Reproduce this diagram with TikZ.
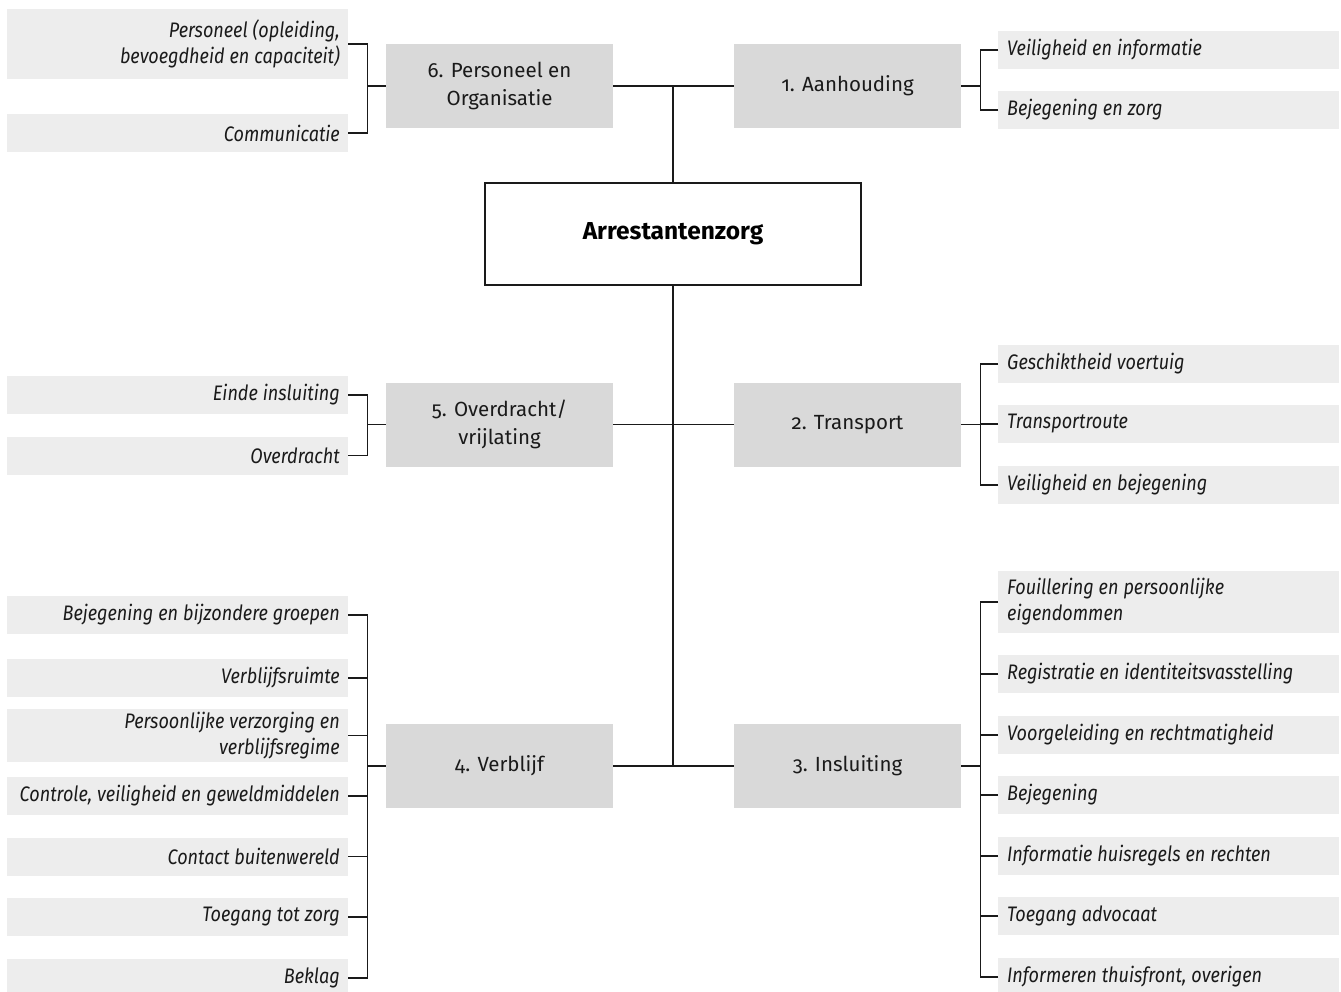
\documentclass[tikz,border=0pt]{standalone}
\usepackage{fontspec}
\setmainfont{Fira Sans}[Numbers=OldStyle]
\newfontfamily\itemfont{Fira Sans}[FakeStretch=0.86]
\definecolor{catgray}{HTML}{D9D9D9}
\definecolor{subgray}{HTML}{EDEDED}
\definecolor{linec}{HTML}{1A1A1A}
\definecolor{textc}{HTML}{1A1A1A}
\begin{document}
\begin{tikzpicture}[x=1pt,y=-1pt,
  cat/.style={fill=catgray, minimum width=227pt, minimum height=84pt, inner sep=0pt, align=center, text=textc, font=\fontsize{20.5}{27.5}\selectfont},
  mainbox/.style={draw=linec, line width=1.2pt, fill=white, minimum width=376pt, minimum height=102pt, inner sep=0pt, text=black, font=\fontsize{24.5}{28}\selectfont\bfseries},
  itemtext/.style={fill=subgray, inner ysep=0pt, minimum height=#1, text=textc, font=\itemfont\itshape\fontsize{21}{26}\selectfont, execute at begin node={\spaceskip=5pt\relax}},
  lsub/.style={itemtext=#1, anchor=east, text width=325pt, inner xsep=8pt, align=flush right},
  lsub/.default=38pt,
  rsub/.style={itemtext=#1, anchor=west, text width=323pt, inner xsep=9pt, align=flush left},
  rsub/.default=38pt,
  conn/.style={draw=linec, line width=1.3pt}
]
\clip (0,0) rectangle (1341,992);
\fill[white] (0,0) rectangle (1341,992);

% main
\node[mainbox] (main) at (673,234) {Arrestantenzorg};

% categories
\node[cat] (c6) at (499.5,86) {6. Personeel en\\Organisatie};
\node[cat] (c1) at (847.5,86) {1. Aanhouding};
\node[cat] (c5) at (499.5,424.5) {5. Overdracht/\\vrijlating};
\node[cat] (c2) at (847.5,424.5) {2. Transport};
\node[cat] (c4) at (499.5,766) {4. Verblijf};
\node[cat] (c3) at (847.5,766) {3. Insluiting};

% left items
\node[lsub=70pt] (p1) at (348,44) {Personeel (opleiding,\\bevoegdheid en capaciteit)};
\node[lsub] (p2) at (348,133) {Communicatie};
\node[lsub] (o1) at (348,395) {Einde insluiting};
\node[lsub] (o2) at (348,455.5) {Overdracht};
\node[lsub] (v1) at (348,615) {Bejegening en bijzondere groepen};
\node[lsub] (v2) at (348,678) {Verblijfsruimte};
\node[lsub=53pt] (v3) at (348,735.5) {Persoonlijke verzorging en\\verblijfsregime};
\node[lsub] (v4) at (348,796) {Controle, veiligheid en geweldmiddelen};
\node[lsub] (v5) at (348,856.5) {Contact buitenwereld};
\node[lsub] (v6) at (348,917) {Toegang tot zorg};
\node[lsub] (v7) at (348,978) {Beklag};

% right items
\node[rsub] (a1) at (998,50) {Veiligheid en informatie};
\node[rsub] (a2) at (998,110) {Bejegening en zorg};
\node[rsub] (t1) at (998,364) {Geschiktheid voertuig};
\node[rsub] (t2) at (998,424) {Transportroute};
\node[rsub] (t3) at (998,485) {Veiligheid en bejegening};
\node[rsub=62pt] (i1) at (998,602) {Fouillering en persoonlijke\\eigendommen};
\node[rsub] (i2) at (998,674) {Registratie en identiteitsvasstelling};
\node[rsub] (i3) at (998,735) {Voorgeleiding en rechtmatigheid};
\node[rsub] (i4) at (998,795) {Bejegening};
\node[rsub] (i5) at (998,856) {Informatie huisregels en rechten};
\node[rsub] (i6) at (998,916) {Toegang advocaat};
\node[rsub] (i7) at (998,977) {Informeren thuisfront, overigen};

% trunk
\draw[conn] (c6.east) -- (c1.west);
\draw[conn] (c5.east) -- (c2.west);
\draw[conn] (c4.east) -- (c3.west);
\draw[conn] (main.north) -- (main.north |- c6.east);
\draw[conn] (main.south) -- (main.south |- c4.east);

% brackets
\path (c6.west) ++(-18,0) coordinate (b6);
\draw[conn] (c6.west) -- (b6);
\foreach \n in {p1,p2} \draw[conn] (\n.east) -| (b6);
\path (c5.west) ++(-18,0) coordinate (b5);
\draw[conn] (c5.west) -- (b5);
\foreach \n in {o1,o2} \draw[conn] (\n.east) -| (b5);
\path (c4.west) ++(-18,0) coordinate (b4);
\draw[conn] (c4.west) -- (b4);
\foreach \n in {v1,v2,v3,v4,v5,v6,v7} \draw[conn] (\n.east) -| (b4);

\path (c1.east) ++(19,0) coordinate (b1);
\draw[conn] (c1.east) -- (b1);
\foreach \n in {a1,a2} \draw[conn] (\n.west) -| (b1);
\path (c2.east) ++(19,0) coordinate (b2);
\draw[conn] (c2.east) -- (b2);
\foreach \n in {t1,t2,t3} \draw[conn] (\n.west) -| (b2);
\path (c3.east) ++(19,0) coordinate (b3);
\draw[conn] (c3.east) -- (b3);
\foreach \n in {i1,i2,i3,i4,i5,i6,i7} \draw[conn] (\n.west) -| (b3);
\end{tikzpicture}
\end{document}
